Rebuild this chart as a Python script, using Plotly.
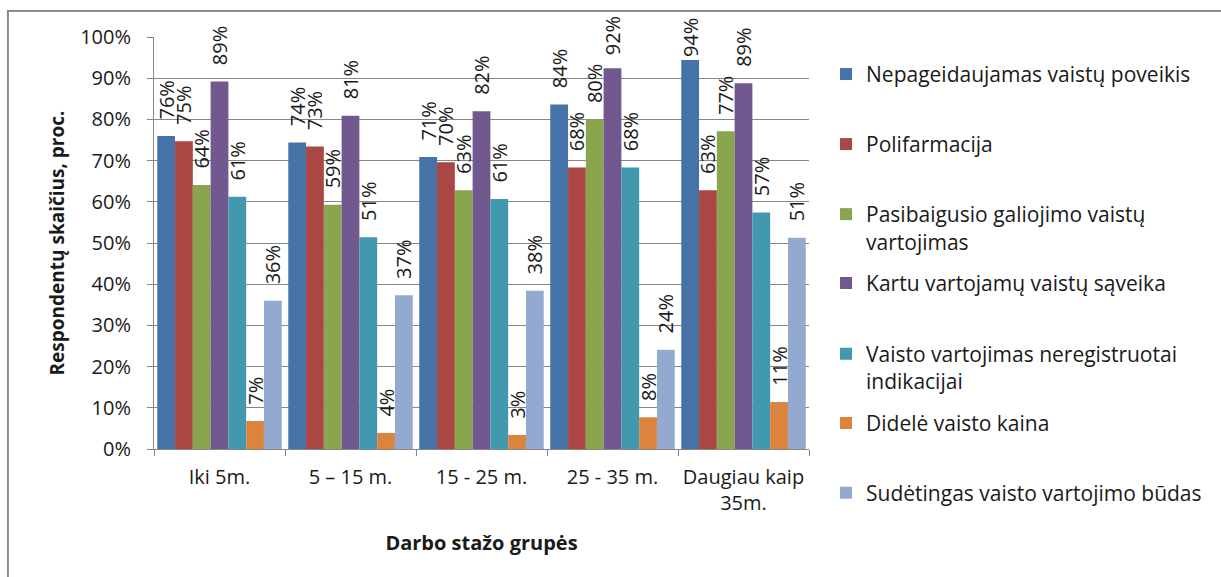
import plotly.graph_objects as go

# Work-experience groups (x categories)
groups = ["Iki 5m.", "5 – 15 m.", "15 - 25 m.", "25 - 35 m.", "Daugiau kaip<br>35m."]

# Share of respondents per problem type, percent
nepageidaujamas = [76.0, 74.4, 70.9, 83.6, 94.4]
polifarmacija = [74.7, 73.4, 69.6, 68.3, 62.8]
pasibaigusio = [64.1, 59.3, 62.8, 80.0, 77.1]
kartu_saveika = [89.2, 80.9, 82.0, 92.4, 88.8]
neregistruotai = [61.2, 51.4, 60.7, 68.3, 57.4]
didele_kaina = [6.8, 3.9, 3.4, 7.7, 11.4]
sudetingas = [36.0, 37.3, 38.4, 24.1, 51.3]

series_names = [
    "Nepageidaujamas vaistų poveikis",
    "Polifarmacija",
    "Pasibaigusio galiojimo vaistų<br>vartojimas",
    "Kartu vartojamų vaistų sąveika",
    "Vaisto vartojimas neregistruotai<br>indikacijai",
    "Didelė vaisto kaina",
    "Sudėtingas vaisto vartojimo būdas",
]
series_values = [nepageidaujamas, polifarmacija, pasibaigusio, kartu_saveika,
                 neregistruotai, didele_kaina, sudetingas]
colors = ["#4572A7", "#AA4643", "#89A54E", "#71588F", "#4198AF", "#DB843D", "#93A9CF"]

# vertical position (paper units) of the top of each legend entry
legend_tops = [0.959, 0.789, 0.619, 0.452, 0.280, 0.112, -0.057]

FONT = "Open Sans"
TXT = "#1a1a1a"
GRID = "#868686"


def bar_label(v):
    # rotated labels sit a little above the bar; the tallest ones are kept
    # inside the chart frame
    if v >= 93:
        gap = ""
    elif v >= 90:
        gap = "\u2002"
    else:
        gap = "\u2002\u2009"
    return f"{gap}{v:.0f}%"


fig = go.Figure()
for i, (name, vals, col) in enumerate(zip(series_names, series_values, colors)):
    leg = "legend" if i == 0 else f"legend{i + 1}"
    fig.add_trace(go.Bar(
        x=groups, y=vals, name=name,
        marker=dict(color=col, line=dict(width=0)),
        text=[bar_label(v) for v in vals],
        textposition="outside", textangle=-90,
        textfont=dict(family=FONT, size=20, color=TXT),
        constraintext="none", cliponaxis=False,
        legend=leg,
    ))

layout_legends = {}
for i, top in enumerate(legend_tops):
    key = "legend" if i == 0 else f"legend{i + 1}"
    layout_legends[key] = dict(
        x=1.026, xanchor="left", y=top, yanchor="top",
        bgcolor="rgba(0,0,0,0)", borderwidth=0, valign="top",
        font=dict(family=FONT, size=21, color=TXT),
    )

fig.update_layout(
    width=1221, height=577,
    margin=dict(l=154, r=412, t=37, b=128),
    paper_bgcolor="white", plot_bgcolor="white",
    barmode="group", bargap=0.05, bargroupgap=0,
    font=dict(family=FONT, size=20, color=TXT),
    showlegend=True,
    **layout_legends,
)

fig.update_yaxes(
    range=[0, 100], dtick=10, ticksuffix="%",
    showgrid=True, gridcolor=GRID, gridwidth=1,
    showline=True, linecolor=GRID, linewidth=1,
    ticks="outside", ticklen=6, tickcolor=GRID,
    ticklabelstandoff=12,
    tickfont=dict(family=FONT, size=20, color=TXT),
    zeroline=False,
    title=dict(text="<b>Respondentų skaičius, proc.</b>", standoff=10,
               font=dict(family=FONT, size=19, color=TXT)),
)
fig.update_xaxes(
    showline=True, linecolor=GRID, linewidth=1,
    ticks="outside", ticklen=6, tickcolor=GRID, tickson="boundaries",
    ticklabelstandoff=10,
    tickfont=dict(family=FONT, size=20, color=TXT),
    title=dict(text="<b>Darbo stažo grupės</b>", standoff=20,
               font=dict(family=FONT, size=20, color=TXT)),
)

# chart frame
fig.add_shape(type="rect", xref="paper", yref="paper",
              x0=-0.223, y0=-0.5, x1=1.8, y1=1.063,
              line=dict(color="#8c8c8c", width=2), layer="below")

fig.write_html("out.html")
